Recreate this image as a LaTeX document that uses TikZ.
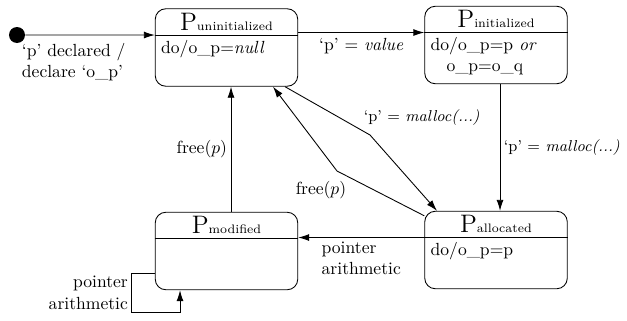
\documentclass[tikz,border=0pt]{standalone}
\usepackage{amsmath}
\usepackage{tikz}
\usetikzlibrary{arrows.meta}

\tikzset{
    state/.style={draw, line width=0.5pt, rounded corners=6pt, minimum width=2.85cm, minimum height=1.55cm},
    title/.style={anchor=north, minimum height=0.52cm, inner sep=0pt},
    body/.style={anchor=north west, align=left, inner sep=2pt, font=\normalsize},
    trans/.style={line width=0.5pt, -{Latex[length=2.2mm, width=1.4mm]}},
    lbl/.style={align=left, inner sep=2pt}
}

\begin{document}
\begin{tikzpicture}
    \useasboundingbox (0,0) rectangle (12.54,6.4);

    % Draw the states with their name bar
    \foreach \nm/\x/\y/\sub in {uninit/4.53/5.45/uninitialized, init/9.92/5.5/initialized,
                                alloc/9.92/1.4/allocated, mod/4.53/1.38/modified} {
        \node[state] (\nm) at (\x,\y) {};
        \node[title] (\nm-t) at (\nm.north) {{\Large P}{\scriptsize\sub}};
        \draw[line width=0.5pt] (\nm.west |- \nm-t.south) coordinate (\nm-hw) -- (\nm.east |- \nm-t.south);
    }

    % Entry actions
    \node[body] at ([xshift=0.05cm,yshift=-0.02cm]uninit-hw) {do/o\_p=\textit{null}};
    \node[body] at ([xshift=0.05cm,yshift=-0.02cm]init-hw) {do/o\_p=p \textit{or}\\ \hspace{0.9em}o\_p=o\_q};
    \node[body] at ([xshift=0.05cm,yshift=-0.02cm]alloc-hw) {do/o\_p=p};

    % Initial state
    \node[circle, fill, inner sep=0pt, minimum size=0.32cm] (start) at (0.34,5.7) {};
    \draw[trans] (start) -- (uninit-hw)
        node[lbl, anchor=north west] at (0.36,5.62) {`p' declared /\\ declare `o\_p'};

    % Transitions
    \draw[trans] (uninit.east |- init-hw) -- (init-hw)
        node[midway, below, lbl, yshift=-1pt] {`p' = \textit{value}};
    \draw[trans] ([xshift=0.08cm]init.south) -- ([xshift=0.08cm]alloc.north)
        node[midway, right, lbl, font=\small] {`p' = \textit{malloc(...)}};
    \draw[trans] ([xshift=1.17cm]uninit.south) -- (7.4,3.7)
        node[pos=0.88, above right, lbl, font=\small] {`p' = \textit{malloc(...)}}
        -- ([xshift=-1.18cm]alloc.north);
    \draw[trans] ([yshift=-0.1cm]alloc.north west) -- (6.74,2.98)
        node[pos=0.85, anchor=north east, lbl] {free($p$)}
        -- ([xshift=0.93cm]uninit.south);
    \draw[trans] ([xshift=0.09cm]mod.north) -- ([xshift=0.09cm]uninit.south)
        node[midway, left, lbl] {free($p$)};
    \draw[trans] (alloc-hw) -- (alloc-hw -| mod.east)
        node[midway, below, lbl] {pointer\\ arithmetic};

    % Self loop on the modified state
    \draw[trans] ([yshift=-0.44cm]mod.west) -- ++(-0.46,0)
        |- ([xshift=-0.93cm,yshift=-0.45cm]mod.south)
        node[pos=0.25, left, align=right, inner sep=2pt] {pointer\\ arithmetic}
        -- ([xshift=-0.93cm]mod.south);
\end{tikzpicture}
\end{document}
